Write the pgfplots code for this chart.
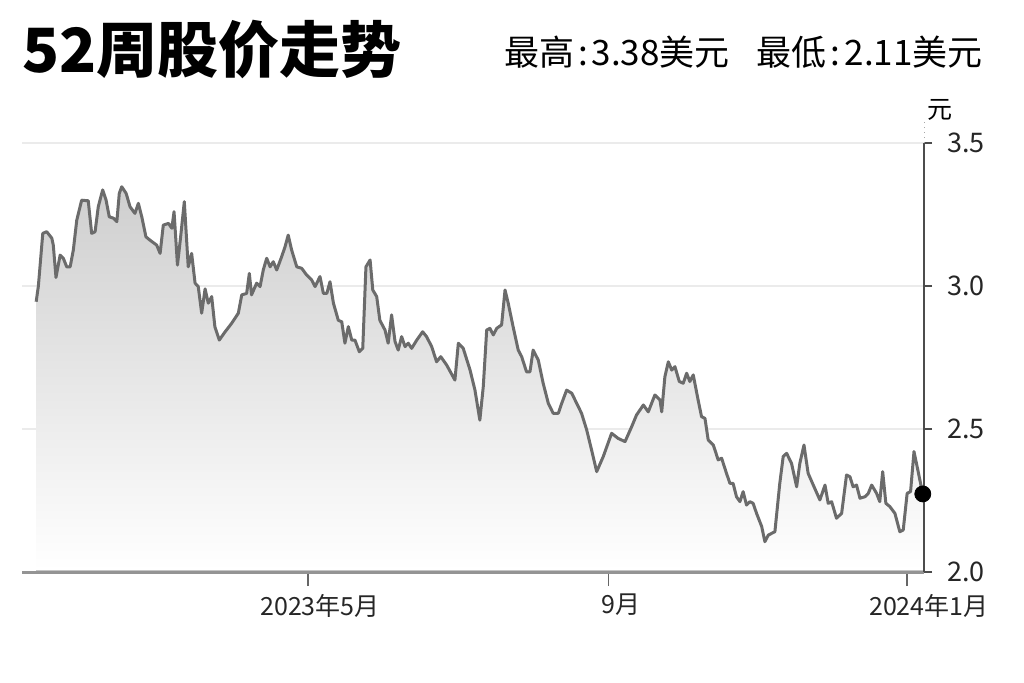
\documentclass[border=0pt]{standalone}
\usepackage{fontspec}
\newfontfamily\cjk{Noto Sans CJK SC}
\usepackage{pgfplots}
\pgfplotsset{compat=1.18}
\usepackage{pgfplotstable}
\usepgfplotslibrary{fillbetween}

% day = days since 2023-01-01, price in USD
\pgfplotstableread{
day price
8.8 2.945
9.7 3.000
11.5 3.184
13.1 3.190
15.2 3.167
15.8 3.143
16.9 3.030
18.6 3.108
19.9 3.097
21.3 3.067
22.7 3.067
24.0 3.126
25.4 3.230
27.4 3.300
30.1 3.298
31.5 3.184
32.9 3.190
34.2 3.277
36.0 3.336
37.4 3.300
38.7 3.242
40.4 3.237
41.8 3.225
42.8 3.324
43.8 3.347
45.6 3.324
47.2 3.277
49.2 3.254
50.6 3.289
52.0 3.242
53.7 3.172
55.4 3.160
58.1 3.143
59.5 3.114
60.8 3.213
62.9 3.219
64.3 3.202
65.2 3.260
66.6 3.073
67.9 3.172
69.4 3.295
71.0 3.067
72.4 3.114
73.8 3.010
75.1 2.998
76.5 2.905
77.9 2.990
79.2 2.940
80.6 2.963
81.9 2.858
83.7 2.811
86.1 2.840
88.8 2.870
91.5 2.905
92.9 2.969
94.9 2.974
96.0 3.044
96.9 2.969
99.0 3.010
100.4 2.998
101.7 3.056
103.1 3.097
104.5 3.067
105.8 3.085
107.2 3.056
109.2 3.102
110.6 3.137
111.9 3.178
113.3 3.126
115.4 3.067
117.4 3.062
119.5 3.038
121.5 3.021
122.9 2.998
124.9 3.033
126.3 2.974
127.7 2.974
129.0 3.015
130.4 2.940
132.4 2.880
133.8 2.875
135.1 2.800
136.5 2.858
137.9 2.811
139.2 2.811
141.0 2.770
142.4 2.782
143.7 3.067
145.4 3.091
146.5 2.986
148.1 2.963
149.4 2.880
151.5 2.846
152.8 2.800
154.2 2.899
155.6 2.806
156.9 2.776
158.3 2.823
159.7 2.788
161.0 2.800
162.4 2.782
164.5 2.811
166.9 2.840
168.5 2.823
170.6 2.788
172.6 2.735
174.3 2.753
176.7 2.724
180.1 2.671
181.5 2.800
183.5 2.782
186.3 2.706
188.3 2.636
190.3 2.531
191.7 2.648
193.1 2.846
194.4 2.852
195.8 2.829
197.2 2.852
199.2 2.864
200.6 2.986
201.9 2.940
203.9 2.858
206.0 2.776
207.4 2.753
209.4 2.700
210.8 2.700
212.1 2.776
214.2 2.741
216.2 2.660
218.3 2.590
220.3 2.555
222.4 2.555
223.8 2.590
225.8 2.636
227.9 2.625
229.9 2.590
231.9 2.555
234.0 2.497
236.0 2.427
238.1 2.351
240.8 2.404
244.2 2.485
246.9 2.467
249.7 2.456
252.4 2.508
254.4 2.549
257.2 2.584
259.2 2.560
261.9 2.619
264.0 2.601
264.7 2.560
266.0 2.683
267.4 2.735
268.8 2.706
270.1 2.718
271.9 2.666
273.5 2.660
274.9 2.695
276.2 2.666
277.6 2.689
279.6 2.601
281.0 2.543
282.4 2.537
283.7 2.462
285.8 2.444
287.8 2.392
289.2 2.398
291.2 2.345
292.6 2.310
293.9 2.310
295.3 2.263
296.7 2.246
298.0 2.281
299.4 2.234
300.8 2.246
302.1 2.240
303.5 2.205
305.6 2.159
306.9 2.106
308.3 2.129
311.0 2.141
313.0 2.310
314.4 2.404
315.8 2.415
317.8 2.380
319.9 2.298
321.2 2.380
322.9 2.444
324.6 2.345
326.7 2.304
329.4 2.252
331.5 2.304
332.8 2.240
334.2 2.246
336.2 2.188
338.3 2.205
340.3 2.339
341.7 2.333
343.0 2.298
344.4 2.304
345.8 2.258
347.8 2.263
349.2 2.275
350.6 2.304
352.6 2.275
353.9 2.246
355.1 2.351
356.4 2.240
358.0 2.229
360.1 2.205
362.1 2.141
363.5 2.147
365.1 2.275
366.5 2.281
367.9 2.421
369.2 2.368
370.3 2.322
371.5 2.273
}\prices

\begin{document}
\begin{tikzpicture}
\path (0,0) rectangle (512pt,341pt);
\begin{axis}[
  at={(11pt,55pt)}, anchor=south west,
  scale only axis, width=451pt, height=214.5pt,
  xmin=3, xmax=372, ymin=2, ymax=3.5,
  axis x line*=bottom, axis y line*=right,
  x axis line style={black!42, line width=1.5pt},
  y axis line style={black!70, line width=0.7pt},
  xtick={120,243,365},
  xticklabels={2023年5月, 9月, \hspace*{10pt}2024年1月},
  ytick={2,2.5,3,3.5},
  tick align=outside,
  major tick length=4pt,
  xtick style={black!60, line width=0.6pt, /pgfplots/major tick length=7pt},
  ytick style={black!70, line width=0.6pt},
  ymajorgrids, major grid style={black!8, line width=0.6pt},
  ticklabel style={text=black!85},
  xticklabel style={font=\cjk\fontsize{12.5}{15}\selectfont, xshift=6pt, yshift=-3.5pt},
  /pgf/number format/assume math mode=true,
  yticklabel style={font=\cjk\fontsize{13.5}{16}\selectfont, xshift=4pt,
    /pgf/number format/.cd, fixed, fixed zerofill, precision=1},
  clip=false,
]
\addplot[draw=none, name path=price, forget plot] table[x=day, y=price] {\prices};
% base kept just above the x axis line so the fill does not cover it
\addplot[draw=none, name path=base, forget plot] coordinates {(8.8,2.006) (371.5,2.006)};
\addplot[top color=black!19, bottom color=white, draw=none] fill between[of=price and base];
\addplot[black!58, line width=1.5pt, line join=round] table[x=day, y=price] {\prices};
\addplot[only marks, mark=*, mark size=4pt, black] coordinates {(371.5,2.273)};
\end{axis}
\node[anchor=west, inner sep=0, font=\cjk\bfseries\fontsize{30.5}{36}\selectfont] at (11pt,316pt) {52周股价走势};
\node[anchor=east, inner sep=0, font=\cjk\fontsize{17.5}{21}\selectfont] at (491.5pt,315pt) {最高\hspace{2pt}:\hspace{2pt}3.38美元\hspace{13.5pt}最低\hspace{2pt}:\hspace{2pt}2.11美元};
\node[inner sep=0, font=\cjk\fontsize{12.5}{15}\selectfont] at (470pt,286pt) {元};
\draw[black!35, dotted, line width=0.5pt] (462pt,269.5pt) -- (462pt,281pt);
\end{tikzpicture}
\end{document}
